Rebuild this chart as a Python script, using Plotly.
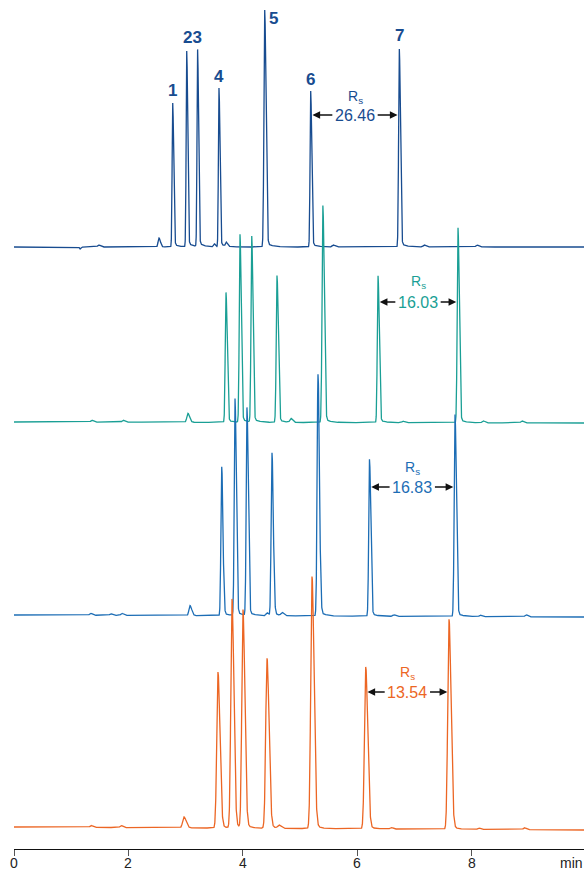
import numpy as np
import plotly.graph_objects as go

# ---------------- data ----------------
# retention times (min), peak heights (signal units), peak widths (sigma, min)
t1_times   = [1.154, 1.48, 2.535, 2.775, 3.02, 3.21, 3.50, 3.584, 3.71, 4.383, 5.187, 5.58, 6.736, 7.17, 8.09]
t1_heights = [-2.0,  2.0,  9.0,   144,   196,  197,  3.0,  159,   4.0,  237,   156,   2.0,  198,   2.0,  2.0]
t1_widths  = [0.010, 0.02, 0.018, 0.012, 0.012, 0.012, 0.015, 0.012, 0.015, 0.016, 0.013, 0.02, 0.014, 0.02, 0.02]

t2_times   = [1.36, 1.906, 3.04, 3.706, 3.951, 4.156, 4.598, 4.84, 5.40, 6.364, 6.80, 7.762, 8.20, 8.88]
t2_heights = [2.0,  2.0,   9.0,  130,   188,   186,   147,   4.0,  217,  147,   1.5,  195,   2.0,  2.0]
t2_widths  = [0.02, 0.02,  0.022, 0.015, 0.015, 0.015, 0.016, 0.02, 0.017, 0.015, 0.02, 0.016, 0.02, 0.02]

t3_times   = [1.337, 1.69, 1.885, 3.077, 3.631, 3.864, 4.073, 4.423, 4.51, 4.685, 5.315, 6.215, 6.64, 7.71, 8.15, 8.95]
t3_heights = [2.0,   1.5,  2.0,   10.0,  149,   217,   208,   3.0,   163,  3.0,   242,   157,   1.5,  202,  1.5,  2.0]
t3_widths  = [0.02,  0.02, 0.02,  0.022, 0.016, 0.016, 0.016, 0.02,  0.017, 0.02, 0.018, 0.016, 0.02, 0.017, 0.02, 0.02]

t4_times   = [1.346, 1.87, 2.972, 3.566, 3.811, 4.003, 4.423, 4.63, 5.21, 6.149, 6.59, 7.605, 8.12, 8.92]
t4_heights = [2.0,   2.0,  11.0,  156,   229,   218,   170,   3.0,  252,  162,   1.5,  210,   1.5,  2.0]
t4_widths  = [0.02,  0.02, 0.028, 0.025, 0.024, 0.024, 0.026, 0.025, 0.026, 0.026, 0.02, 0.026, 0.02, 0.02]

trace_times   = [t1_times, t2_times, t3_times, t4_times]
trace_heights = [t1_heights, t2_heights, t3_heights, t4_heights]
trace_widths  = [t1_widths, t2_widths, t3_widths, t4_widths]
trace_drift   = [0.0, -1.0, -2.0, -3.0]           # baseline change over the run

peak_labels      = ["1", "23", "4", "5", "6", "7"]
peak_label_times = [2.775, 3.115, 3.584, 4.53, 5.187, 6.736]

rs_values = ["26.46", "16.03", "16.83", "13.54"]
rs_pairs  = [(5.187, 6.736), (6.364, 7.762), (6.215, 7.71), (6.149, 7.605)]

tick_vals = [0, 2, 4, 6, 8]
tick_text = ["0", "2", "4", "6", "8"]

# ---------------- layout/style ----------------
colors  = ["#184c90", "#1a9f95", "#1c6db5", "#ec6624"]
offsets = [602, 427, 234, 22]          # vertical stacking of the chromatograms
XMAX = 9.965
YMAX = 849
FONT = "Liberation Sans, Arial"

t = np.arange(0, XMAX + 0.0015, 0.0015)


def chromatogram(times, heights, widths, drift):
    y = np.zeros_like(t) + drift * t / XMAX
    for t0, h, s in zip(times, heights, widths):
        sl = s * 0.85
        sr = s * 1.35
        d = t - t0
        g = np.where(d < 0, np.exp(-0.5 * (d / sl) ** 2), np.exp(-0.5 * (d / sr) ** 2))
        tail = np.where(d > 0, 0.025 * np.exp(-d / 0.09) * (1 - np.exp(-(d / sr) ** 2)), 0.0)
        y += h * (g + tail)
    return y


fig = go.Figure()
for i in range(4):
    y = chromatogram(trace_times[i], trace_heights[i], trace_widths[i], trace_drift[i])
    fig.add_trace(go.Scatter(x=t, y=y + offsets[i], mode="lines",
                             line=dict(color=colors[i], width=1.3),
                             hoverinfo="skip", showlegend=False))

annotations = []
# peak numbers on the top chromatogram
label_y = {"1": 759, "23": 812, "4": 773, "5": 831, "6": 770, "7": 814}
for lab, lt in zip(peak_labels, peak_label_times):
    annotations.append(dict(x=lt, y=label_y[lab], text=f"<b>{lab}</b>", showarrow=False,
                            font=dict(size=17, color=colors[0], family=FONT),
                            xanchor="center", yanchor="middle"))

# resolution annotations
rs_text_y = [734, 547, 362, 157]
rs_label_y = [752, 567, 381, 176]
half_w = 0.37   # half width of value text, in minutes
for i in range(4):
    a, b = rs_pairs[i]
    mid = (a + b) / 2
    ytxt = rs_text_y[i]
    annotations.append(dict(x=mid, y=rs_label_y[i], text="R<sub>s</sub>", showarrow=False,
                            font=dict(size=14, color=colors[i], family=FONT),
                            xanchor="center", yanchor="middle"))
    annotations.append(dict(x=mid, y=ytxt, text=rs_values[i], showarrow=False,
                            font=dict(size=16, color=colors[i], family=FONT),
                            xanchor="center", yanchor="middle"))
    annotations.append(dict(x=a + 0.03, y=ytxt, ax=mid - half_w, ay=ytxt, axref="x", ayref="y",
                            xref="x", yref="y", text="", showarrow=True, arrowhead=2,
                            arrowsize=1.1, arrowwidth=1.4, arrowcolor="#111111"))
    annotations.append(dict(x=b - 0.03, y=ytxt, ax=mid + half_w, ay=ytxt, axref="x", ayref="y",
                            xref="x", yref="y", text="", showarrow=True, arrowhead=2,
                            arrowsize=1.1, arrowwidth=1.4, arrowcolor="#111111"))

# x tick labels (as text placed right under the ticks) and unit
for tv, tt in zip(tick_vals, tick_text):
    annotations.append(dict(x=tv, y=0, yshift=-14, text=tt, showarrow=False, xref="x", yref="paper",
                            font=dict(size=14, color="#222222", family=FONT),
                            xanchor="center", yanchor="middle"))
annotations.append(dict(x=9.74, y=0, yshift=-14, text="min", showarrow=False, xref="x", yref="paper",
                        font=dict(size=14, color="#222222", family=FONT),
                        xanchor="center", yanchor="middle"))

fig.update_layout(
    width=584, height=871,
    margin=dict(l=14, r=0, t=0, b=22),
    paper_bgcolor="white", plot_bgcolor="white",
    annotations=annotations,
    xaxis=dict(range=[0, XMAX], tickvals=tick_vals, showticklabels=False, automargin=False,
               showgrid=False, zeroline=False, showline=True, linecolor="#111111", linewidth=1.2,
               ticks="outside", ticklen=6, tickcolor="#555555", tickwidth=1.2),
    yaxis=dict(range=[0, YMAX], visible=False, showgrid=False, zeroline=False, automargin=False),
)

fig.write_html("out.html", config={"displayModeBar": False},
               post_script="document.body.style.margin='0';document.body.style.overflow='hidden';")
